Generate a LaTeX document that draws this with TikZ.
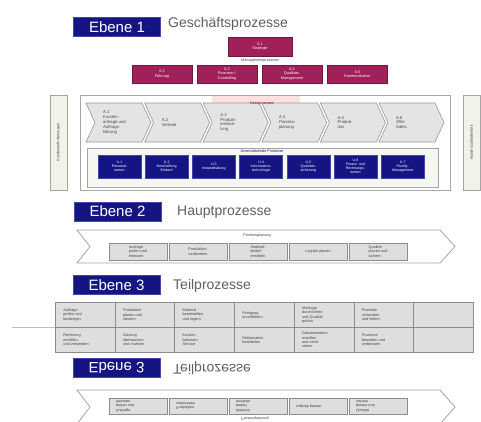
\documentclass[tikz,border=0pt]{standalone}
\usepackage{fontspec}
\setmainfont{Liberation Sans}
\definecolor{navy}{RGB}{20,20,130}
\definecolor{navyedge}{RGB}{70,70,170}
\definecolor{purp}{RGB}{160,32,90}
\definecolor{titlegray}{RGB}{95,95,95}
\definecolor{chevfill}{RGB}{228,228,228}
\definecolor{chevdraw}{RGB}{150,150,150}
\definecolor{framegray}{RGB}{165,165,165}
\definecolor{beige}{RGB}{242,242,232}
\definecolor{cellfill}{RGB}{222,222,222}
\definecolor{celldraw}{RGB}{140,140,140}
\definecolor{txtgray}{RGB}{70,70,70}
\begin{document}
\begin{tikzpicture}[x=1pt,y=-1pt,
  ebene/.style={fill=navy, draw=navyedge, line width=0.8pt, text=white,
    font=\fontsize{15}{15}\selectfont, minimum width=87pt, minimum height=19pt, inner sep=0pt},
  titel/.style={text=titlegray, font=\fontsize{14}{14}\selectfont, anchor=west, inner sep=0pt},
  mgmt/.style={fill=purp, draw=purp!70!black, line width=0.4pt, text=white,
    font=\fontsize{3.8}{4.3}\selectfont, align=center, minimum width=60pt, minimum height=18pt, inner sep=0pt},
  support/.style={fill=navy, draw=navyedge, line width=0.5pt, text=white,
    font=\fontsize{3.6}{4.1}\selectfont, align=center, minimum width=43pt, minimum height=23pt, inner sep=0pt},
  chev/.style={fill=chevfill, draw=chevdraw, line width=0.6pt},
  chevtext/.style={font=\fontsize{4.2}{4.8}\selectfont, text=txtgray, align=left, anchor=west, inner sep=0pt},
  cell/.style={fill=cellfill, draw=celldraw, line width=0.9pt, font=\fontsize{3.8}{4.4}\selectfont,
    text=txtgray, align=left, inner sep=0pt, anchor=north west},
  frame/.style={draw=framegray, line width=0.8pt},
  tiny/.style={font=\fontsize{3.8}{4.3}\selectfont, inner sep=0pt},
  sidebox/.style={fill=beige, draw=framegray, line width=0.7pt, minimum width=17pt, minimum height=95pt, inner sep=0pt}
]
\useasboundingbox[fill=white] (0,0) rectangle (481,421);

% ---------- Ebene 1 ----------
\node[ebene] (e1) at (117,27) {Ebene 1};
\node[titel] (t1) at (168,24) {Geschäftsprozesse};

\node[mgmt, minimum width=64pt, minimum height=19pt] (m1) at (260,46.5) {0.1\\Strategie};
\node[tiny, text=txtgray] (mlab) at (260,60.5) {Managementprozesse};
\node[mgmt] (m2) at (162,74) {0.2\\Führung};
\node[mgmt] (m3) at (227,74) {0.3\\Finanzen /\\Controlling};
\node[mgmt] (m4) at (292,74) {0.4\\Qualitäts-\\Management};
\node[mgmt] (m5) at (357.5,74) {0.5\\Kommunikation};

% side boxes
\node[sidebox] (sl) at (58.5,142.5) {};
\node[tiny, rotate=90, text=txtgray] (slt) at (sl.center) {Kundenanforderungen};
\node[sidebox] (sr) at (471.5,142.5) {};
\node[tiny, rotate=90, text=txtgray] (srt) at (sr.center) {Kundenzufriedenheit};

% main frame
\draw[frame, fill=white] (80,95) rectangle (450,190);
\fill[red!12] (212,96) rectangle (300,103);

% core chevrons
\foreach \i/\txt in {0/{A.1\\Kunden-\\anfrage und\\Auftrags-\\klärung},
                     1/{A.2\\Vertrieb},
                     2/{A.3\\Produkt-\\entwick-\\lung},
                     3/{A.4\\Prozess-\\planung},
                     4/{A.5\\Produk-\\tion},
                     5/{A.6\\After\\Sales}}{
  \pgfmathsetmacro{\xl}{86+58.6*\i}
  \pgfmathsetmacro{\xr}{\xl+56}
  \draw[chev] (\xl,103) -- (\xr,103) -- (\xr+9,122.5) -- (\xr,142) -- (\xl,142) -- (\xl+9,122.5) -- cycle;
  \node[chevtext] (k\i) at (\xl+17,122.5) {\txt};
}
\node[tiny, text=red!65!black] (klab) at (262,104) {Kernprozesse};

% support frame
\draw[frame, fill=beige!60] (87,148) rectangle (438,187);
\node[tiny, text=navy] (ulab) at (262,151.5) {Unterstützende Prozesse};
\foreach \i/\txt in {0/{U.1\\Personal-\\wesen},
                     1/{U.2\\Beschaffung\\Einkauf},
                     2/{U.3\\Instandhaltung},
                     3/{U.4\\Informations-\\technologie},
                     4/{U.5\\Qualitäts-\\sicherung},
                     5/{U.6\\Finanz- und\\Rechnungs-\\wesen},
                     6/{U.7\\Facility-\\Management}}{
  \node[support] (u\i) at (119.5+47.2*\i,166.5) {\txt};
}

% ---------- Ebene 2 ----------
\node[ebene] (e2) at (117.5,211.5) {Ebene 2};
\node[titel] (t2) at (177,212) {Hauptprozesse};
\draw[frame, fill=white] (77,230) -- (440,230) -- (455,246.5) -- (440,263) -- (77,263) -- (90,246.5) -- cycle;
\node[tiny, text=txtgray] (plab) at (257,236) {Prozessplanung};
\foreach \i/\txt in {0/{Aufträge\\prüfen und\\erfassen},
                     1/{Produktion\\vorbereiten},
                     2/{Material-\\bedarf\\ermitteln},
                     3/{Logistik planen},
                     4/{Qualität\\planen und\\sichern}}{
  \node[cell, anchor=center, minimum width=58pt, minimum height=17pt] (h\i) at (138+60*\i,251.5) {\txt};
}

% ---------- Ebene 3 ----------
\node[ebene] (e3) at (116.5,285) {Ebene 3};
\node[titel] (t3) at (173,286) {Teilprozesse};

\draw[gray!50, line width=0.4pt] (12,327) -- (55,327);
\foreach \i/\txt in {0/{Aufträge\\prüfen und\\bestätigen},
                     1/{Produktion\\planen und\\steuern},
                     2/{Material\\bereitstellen\\und lagern},
                     3/{Fertigung\\durchführen},
                     4/{Montage\\durchführen\\und Qualität\\prüfen},
                     5/{Produkte\\versenden\\und liefern},
                     6/{}}{
  \node[cell, minimum width=59.7pt, minimum height=25pt, text width=50pt] (ga\i) at (55+59.7*\i,302) {\hspace*{3pt}\parbox{48pt}{\txt}};
}
\foreach \i/\txt in {0/{Rechnung\\erstellen\\und versenden},
                     1/{Zahlung\\überwachen\\und mahnen},
                     2/{Kunden\\betreuen\\Service},
                     3/{Reklamation\\bearbeiten},
                     4/{Dokumentation\\erstellen\\und archi-\\vieren},
                     5/{Prozesse\\bewerten und\\verbessern},
                     6/{}}{
  \node[cell, minimum width=59.7pt, minimum height=25pt, text width=50pt] (gb\i) at (55+59.7*\i,327) {\hspace*{3pt}\parbox{48pt}{\txt}};
}

% ---------- mirrored Ebene 3 ----------
\node[ebene] (e3m) at (116.5,368) {\scalebox{1}[-1]{Ebene 3}};
\node[titel] (t3m) at (173,368) {\scalebox{1}[-1]{Teilprozesse}};
\draw[frame, fill=white] (77,390) -- (440,390) -- (455,407) -- (440,424) -- (77,424) -- (90,407) -- cycle;
\foreach \i/\txt in {0/{Aufträge\\prüfen und\\erfassen},
                     1/{Produktion\\vorbereiten},
                     2/{Material-\\bedarf\\ermitteln},
                     3/{Logistik planen},
                     4/{Qualität\\planen und\\sichern}}{
  \node[cell, anchor=center, minimum width=58pt, minimum height=16pt] (hm\i) at (138+60*\i,406) {\scalebox{1}[-1]{\parbox{44pt}{\txt}}};
}
\node[tiny, text=txtgray] (plabm) at (255,418.5) {\scalebox{1}[-1]{Prozessplanung}};
\end{tikzpicture}
\end{document}
